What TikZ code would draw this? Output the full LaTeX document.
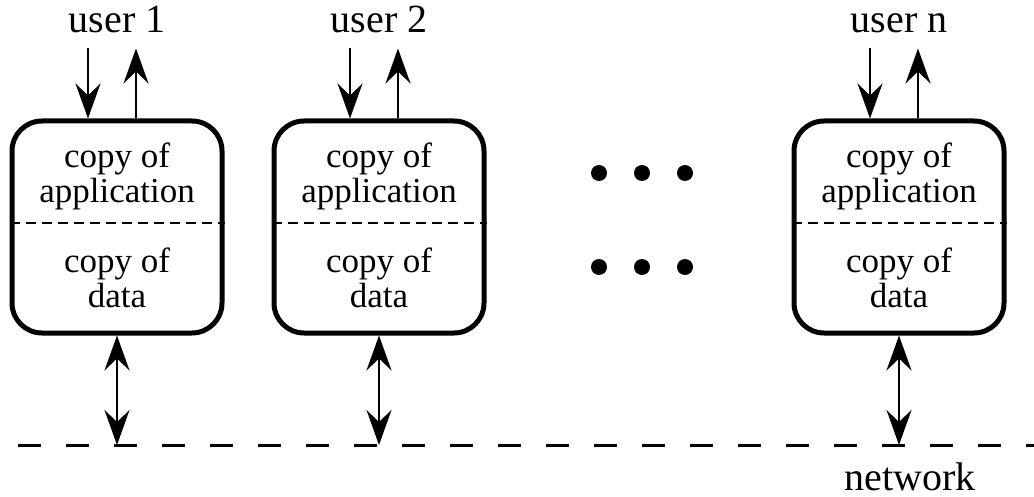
\documentclass[tikz,border=0pt]{standalone}
\usepackage{fontspec}
\setmainfont{Liberation Serif}
\usetikzlibrary{arrows.meta}
\tikzset{
  lbl/.style={font=\fontsize{35}{35}\selectfont, align=center, inner sep=0pt},
  big/.style={font=\fontsize{40}{40}\selectfont, anchor=base, inner sep=0pt},
  box/.style={draw, line width=5pt, rounded corners=30pt, minimum width=210pt, minimum height=212pt},
  sep/.style={line width=2pt, dash pattern=on 10pt off 6pt},
  tip/.tip={Stealth[length=35pt, width=25pt, inset=12pt]},
  flow/.style={line width=2.2pt, -tip},
  duplex/.style={line width=2.2pt, tip-tip},
  netline/.style={line width=3pt, dash pattern=on 23pt off 25pt}
}
\begin{document}
\begin{tikzpicture}[x=1pt,y=-1pt]
		\useasboundingbox (0,0) rectangle (1034,497);
		
		% the network
		\draw[netline] (18,445) -- (1034,445);
		\node[big] (net) at (910,490) {network};
		
		\foreach \i/\x/\u in {1/117/1, 2/379/2, 3/899/n}{
		\node[box] (box\i) at (\x,227) {};
		\node[lbl] (app\i) at (\x,176) {copy of\\application};
		\node[lbl] (dat\i) at (\x,278) {copy of\\data};
		\draw[sep] ([yshift=4pt]box\i.west) -- ([yshift=4pt]box\i.east);
		\node[big] (user\i) at (\x,33) {user \u};
		\draw[flow] ([xshift=-29pt,yshift=70pt]box\i.north) -- ([xshift=-29pt]box\i.north);
		\draw[flow] ([xshift=19pt]box\i.north) -- ([xshift=19pt,yshift=70pt]box\i.north);
		\coordinate (tap\i) at (\x,445);
		\draw[duplex] (box\i.south) -- (tap\i);
		}
		
		% more users
		\foreach \x in {599,642,685}
		\foreach \y in {173,267}
		\fill (\x,\y) circle (8pt);
		
\end{tikzpicture}
\end{document}
